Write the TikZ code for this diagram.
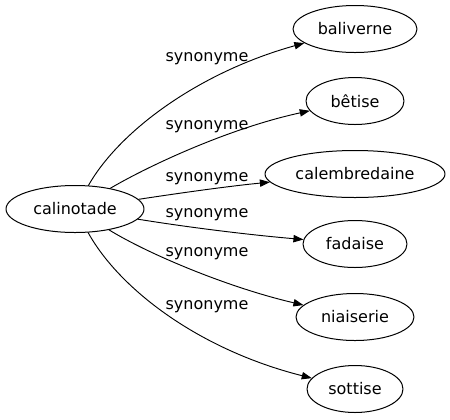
\documentclass[tikz,border=0pt]{standalone}
\usepackage{fontspec}
\setmainfont{DejaVu Sans}
\usetikzlibrary{arrows.meta,shapes.geometric}

\tikzset{
  word/.style={draw,ellipse,line width=.75pt,inner sep=0pt,
    minimum height=47*0.75pt,font=\fontsize{12}{14}\selectfont},
  rel/.style={font=\fontsize{12}{14}\selectfont,inner sep=0pt},
  syn/.style={-{Triangle[length=7.5pt,width=5.5pt]},line width=.7pt},
}

\begin{document}
\begin{tikzpicture}[x=0.75pt,y=-0.75pt,line cap=round,line join=round]
  \useasboundingbox (0,0) rectangle (450,419);

  % The source word on the left.
  \node[word,minimum width=138*0.75pt] (cal) at (75,209) {calinotade};

  % The six synonyms, stacked in one column.
  \foreach \name/\txt/\y/\w in {bal/baliverne/29/124, bet/bêtise/101/98,
      calem/calembredaine/174/180, fad/fadaise/244/104,
      niai/niaiserie/317/118, sot/sottise/389/96}
    \node[word,minimum width=\w*0.75pt] (\name) at (355,\y) {\txt};

  % Edge labels.
  \foreach \i/\y in {1/59,2/127,3/179,4/215,5/254,6/307}
    \node[rel] (s\i) at (207,\y) {synonyme};

  % Curved connectors from the source to each synonym.
  \draw[syn] (cal) .. controls (120,130) and (200,72) .. (bal);
  \draw[syn] (cal) .. controls (150,165) and (230,128) .. (bet);
  \draw[syn] (cal) .. controls (180,193) and (230,186) .. (calem);
  \draw[syn] (cal) .. controls (180,226) and (240,234) .. (fad);
  \draw[syn] (cal) .. controls (150,255) and (230,288) .. (niai);
  \draw[syn] (cal) .. controls (120,290) and (200,350) .. (sot);
\end{tikzpicture}
\end{document}
